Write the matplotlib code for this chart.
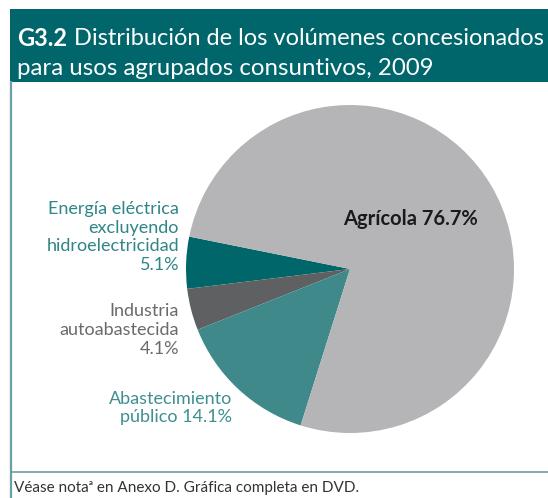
import matplotlib
matplotlib.use("Agg")
import matplotlib.pyplot as plt
from matplotlib.patches import Rectangle

plt.rcParams['font.family'] = ['Lato', 'DejaVu Sans']

LABELS = ["Energía eléctrica\nexcluyendo\nhidroelectricidad\n5.1%",
          "Industria\nautoabastecida\n4.1%",
          "Abastecimiento\npúblico 14.1%",
          "Agrícola 76.7%"]
SHARES = [5.1, 4.1, 14.1, 76.7]
COLORS = ["#006669", "#5f6062", "#3f898b", "#b5b5b7"]
TEXT_COLORS = ["#2f8587", "#6a6a6a", "#3f8f91", "#1a1a1a"]

TEAL = "#00666b"
W, H = 548, 498

fig = plt.figure(figsize=(W / 100, H / 100), dpi=100)

# pie
cx, cy, r = 350, 269, 164
pax = fig.add_axes([(cx - r) / W, (H - cy - r) / H, 2 * r / W, 2 * r / H])
pax.pie(SHARES, colors=COLORS, startangle=168.6, counterclock=True,
        radius=1, wedgeprops=dict(linewidth=0))
pax.set_xlim(-1, 1); pax.set_ylim(-1, 1); pax.axis("off")

# overlay axes in pixel coords for frame and text
bg = fig.add_axes([0, 0, 1, 1])
bg.set_zorder(2); bg.patch.set_visible(False)
bg.set_xlim(0, W); bg.set_ylim(H, 0); bg.axis("off")

bg.add_patch(Rectangle((10, 9), W - 10, 73, color=TEAL, lw=0))
bg.plot([11, 11], [82, H], color="#6b9fa1", lw=1.6)
bg.plot([11, W], [472, 472], color="#6b9fa1", lw=1.2)
bg.text(17, 38, "G3.2", color="white", fontsize=17, fontweight="bold", va="center")
bg.text(74, 38, "Distribución de los volúmenes concesionados", color="white",
        fontsize=17, va="center")
bg.text(17, 68, "para usos agrupados consuntivos, 2009", color="white",
        fontsize=17.3, va="center")
bg.text(14, 488, "Véase nota\u1d43 en Anexo D. Gráfica completa en DVD.",
        color="#333333", fontsize=11, va="center")

bg.text(179, 237, LABELS[0], color=TEXT_COLORS[0], fontsize=13, ha="right",
        va="center", linespacing=1.2)
bg.text(179, 330, LABELS[1], color=TEXT_COLORS[1], fontsize=13, ha="right",
        va="center", linespacing=1.2)
bg.text(232, 408, LABELS[2], color=TEXT_COLORS[2], fontsize=13, ha="right",
        va="center", linespacing=1.2)
bg.text(410, 219, LABELS[3], color=TEXT_COLORS[3], fontsize=14.5,
        fontweight="bold", ha="center", va="center")

fig.savefig("out.png", dpi=100)
